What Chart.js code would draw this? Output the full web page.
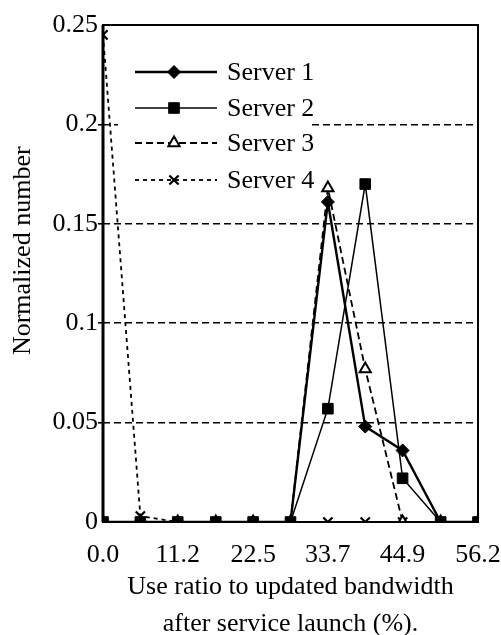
<!DOCTYPE html>
<html>
<head>
<meta charset="utf-8">
<script src="https://cdn.jsdelivr.net/npm/chart.js@4"></script>
<style>
  html, body { margin: 0; padding: 0; background: #fff; }
  #wrap { width: 501px; height: 635px; }
</style>
</head>
<body>
<div id="wrap"><canvas id="chart" width="501" height="635"></canvas></div>
<script>
// Data
const xValues = [0, 5.6, 11.2, 16.9, 22.5, 28.1, 33.7, 39.3, 44.9, 50.6, 56.2];
const server1 = [0, 0, 0, 0, 0, 0, 0.161, 0.048, 0.036, 0, 0];
const server2 = [0, 0, 0, 0, 0, 0, 0.057, 0.170, 0.022, 0, 0];
const server3 = [0, 0, 0, 0, 0, 0, 0.168, 0.077, 0, 0, 0];
const server4 = [0.245, 0.003, 0, 0, 0, 0, 0, 0, 0, 0, 0];
const seriesNames = ['Server 1', 'Server 2', 'Server 3', 'Server 4'];
const xTicks = [0, 11.2, 22.5, 33.7, 44.9, 56.2];
const yTicks = [0, 0.05, 0.1, 0.15, 0.2, 0.25];
const yTickLabels = ['0', '0.05', '0.1', '0.15', '0.2', '0.25'];

const FONT = '"Liberation Serif", "DejaVu Serif", serif';
const FSIZE = 26;

function pts(values) {
    return values.map((v, i) => ({ x: xValues[i], y: v }));
}

// legend sits inside the plot on a white box that hides the grid behind it
const innerLegend = {
    id: 'innerLegend',
    beforeDatasetsDraw(chart) {
        const ctx = chart.ctx;
        ctx.save();
        ctx.fillStyle = '#fff';
        ctx.fillRect(118, 46, 190, 152);
        const rows = [72, 108, 143, 180];
        chart.data.datasets.forEach((ds, i) => {
            const y = rows[i];
            ctx.strokeStyle = '#000';
            ctx.lineWidth = ds.borderWidth;
            ctx.setLineDash(ds.borderDash || []);
            ctx.beginPath();
            ctx.moveTo(135, y);
            ctx.lineTo(217, y);
            ctx.stroke();
            ctx.setLineDash([]);
            ctx.fillStyle = ds.pointBackgroundColor;
            ctx.strokeStyle = '#000';
            ctx.lineWidth = ds.pointBorderWidth;
            Chart.helpers.drawPoint(ctx, {
                pointStyle: ds.pointStyle,
                radius: ds.pointRadius,
                borderWidth: ds.pointBorderWidth
            }, 174, y);
            ctx.fillStyle = '#000';
            ctx.font = FSIZE + 'px ' + FONT;
            ctx.textBaseline = 'middle';
            ctx.fillText(ds.label, 227, y + 1);
        });
        ctx.restore();
    },
    afterDraw(chart) {
        // frame round the plot area
        const a = chart.chartArea;
        const ctx = chart.ctx;
        ctx.save();
        ctx.strokeStyle = '#000';
        ctx.lineWidth = 2;
        ctx.strokeRect(a.left, a.top, a.right - a.left, a.bottom - a.top);
        ctx.lineWidth = 3;
        ctx.beginPath();
        ctx.moveTo(a.left, a.top);
        ctx.lineTo(a.left, a.bottom);
        ctx.stroke();
        ctx.restore();
    }
};

const common = { fill: false, borderColor: '#000', pointBorderColor: '#000', tension: 0 };

new Chart(document.getElementById('chart'), {
    type: 'line',
    data: {
        datasets: [
            Object.assign({}, common, {
                label: seriesNames[0], data: pts(server1),
                borderWidth: 2.4, pointStyle: 'rectRot', pointRadius: 6.5,
                pointBackgroundColor: '#000', pointBorderWidth: 1
            }),
            Object.assign({}, common, {
                label: seriesNames[1], data: pts(server2),
                borderWidth: 1.5, pointStyle: 'rect', pointRadius: 7.5,
                pointBackgroundColor: '#000', pointBorderWidth: 1
            }),
            Object.assign({}, common, {
                label: seriesNames[2], data: pts(server3),
                borderWidth: 1.8, borderDash: [7, 4], pointStyle: 'triangle', pointRadius: 6.5,
                pointBackgroundColor: '#fff', pointBorderWidth: 2
            }),
            Object.assign({}, common, {
                label: seriesNames[3], data: pts(server4),
                borderWidth: 1.8, borderDash: [4, 4], pointStyle: 'crossRot', pointRadius: 6.5,
                pointBackgroundColor: '#000', pointBorderWidth: 2.2
            })
        ]
    },
    options: {
        responsive: false,
        animation: false,
        layout: { padding: { left: 0, right: 23, top: 25, bottom: 0 } },
        plugins: {
            legend: { display: false },
            tooltip: { enabled: false }
        },
        scales: {
            x: {
                type: 'linear',
                min: 0,
                max: 56.2,
                afterBuildTicks: s => { s.ticks = xTicks.map(v => ({ value: v })); },
                afterFit: s => { s.height = 113; s.paddingLeft = 0; s.paddingRight = 0; },
                grid: { display: false },
                border: { display: false },
                ticks: {
                    color: '#000',
                    font: { family: FONT, size: FSIZE, lineHeight: 1.2 },
                    padding: 10,
                    maxRotation: 0,
                    autoSkip: false,
                    callback: v => v.toFixed(1)
                },
                title: {
                    display: true,
                    text: ['Use ratio to updated bandwidth', 'after service launch (%).'],
                    color: '#000',
                    font: { family: FONT, size: FSIZE, lineHeight: 1.42 },
                    padding: { top: 0, bottom: -8 }
                }
            },
            y: {
                min: 0,
                max: 0.25,
                afterBuildTicks: s => { s.ticks = yTicks.map(v => ({ value: v })); },
                afterFit: s => { s.width = 103; },
                grid: {
                    color: c => (c.tick && c.tick.value > 0 && c.tick.value < 0.25) ? '#000' : 'rgba(0,0,0,0)',
                    lineWidth: 1.6,
                    tickLength: 5,
                    drawTicks: true
                },
                border: { display: false, dash: [7, 4] },
                ticks: {
                    color: '#000',
                    font: { family: FONT, size: FSIZE },
                    padding: 0,
                    callback: v => yTickLabels[yTicks.indexOf(v)] ?? ''
                },
                title: {
                    display: true,
                    // leading spaces lift the label a little, as in the figure
                    text: '       Normalized number',
                    color: '#000',
                    font: { family: FONT, size: FSIZE, lineHeight: 1.2 },
                    padding: { top: 8, bottom: 0 }
                }
            }
        }
    },
    plugins: [innerLegend]
});
</script>
</body>
</html>
